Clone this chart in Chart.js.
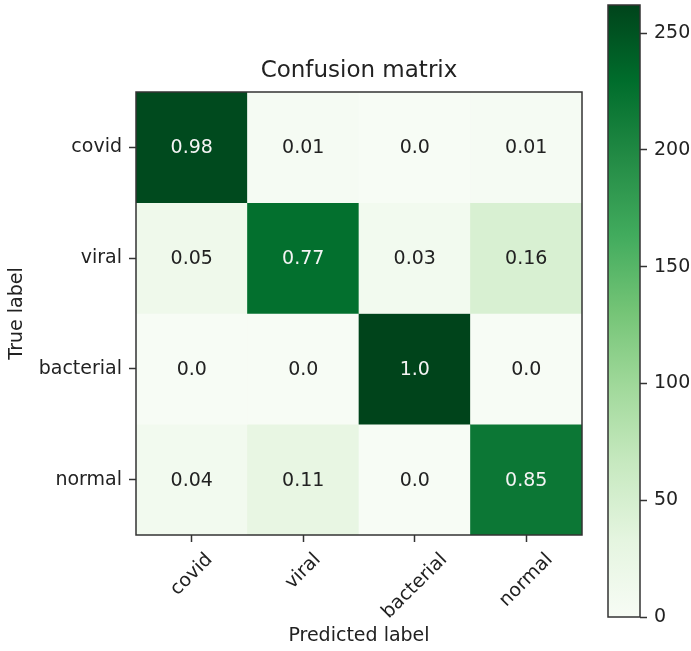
<!DOCTYPE html>
<html>
<head>
<meta charset="utf-8">
<title>Confusion matrix</title>
<script src="https://cdn.jsdelivr.net/npm/chart.js@4.4.1/dist/chart.umd.min.js"></script>
<style>
  html, body { margin: 0; padding: 0; background: #fff; }
  #wrap { position: relative; width: 691px; height: 651px; overflow: hidden; }
  #matrix { position: absolute; left: 0; top: 0; }
  #colorbar { position: absolute; left: 600px; top: 0; }
</style>
</head>
<body>
<div id="wrap">
  <canvas id="matrix" width="600" height="651"></canvas>
  <canvas id="colorbar" width="91" height="651"></canvas>
</div>
<script>
/* Confusion matrix (Greens), text = row-normalised, colour = counts */

var trueLabels = ["covid", "viral", "bacterial", "normal"];
var predictedLabels = ["covid", "viral", "bacterial", "normal"];

// counts per true row (estimated from cell shading)
var countsCovid = [257, 3, 0, 3];
var countsViral = [15, 226, 9, 47];
var countsBacterial = [0, 0, 262, 0];
var countsNormal = [10, 28, 0, 218];

// printed values per true row
var normCovid = [0.98, 0.01, 0.0, 0.01];
var normViral = [0.05, 0.77, 0.03, 0.16];
var normBacterial = [0.0, 0.0, 1.0, 0.0];
var normNormal = [0.04, 0.11, 0.0, 0.85];

var colorbarTicks = [0, 50, 100, 150, 200, 250];
var vmax = 262;
var titleText = "Confusion matrix";

var counts = [countsCovid, countsViral, countsBacterial, countsNormal];
var normalised = [normCovid, normViral, normBacterial, normNormal];

var greens = ["#f7fcf5", "#e5f5e0", "#c7e9c0", "#a1d99b", "#74c476",
              "#41ab5d", "#238b45", "#006d2c", "#00441b"];

var FONT = "'DejaVu Sans', 'Liberation Sans', sans-serif";
var INK = "#222";
var SPINE = "#333";

Chart.defaults.font.family = FONT;
Chart.defaults.color = INK;

function hexRgb(h) {
  return [parseInt(h.substr(1, 2), 16), parseInt(h.substr(3, 2), 16), parseInt(h.substr(5, 2), 16)];
}

function greenAt(t) {
  t = Math.max(0, Math.min(1, t));
  var p = t * (greens.length - 1);
  var i = Math.min(Math.floor(p), greens.length - 2);
  var f = p - i;
  var a = hexRgb(greens[i]), b = hexRgb(greens[i + 1]);
  var c = a.map(function (v, k) { return Math.round(v + (b[k] - v) * f); });
  return "rgb(" + c.join(",") + ")";
}

function fmt(v) {
  return v % 1 === 0 ? v.toFixed(1) : String(v);
}

function noEdgePadding(s) {
  s.paddingTop = 0;
  s.paddingBottom = 0;
}

var frame = {
  id: "frame",
  afterDatasetsDraw: function (chart) {
    var a = chart.chartArea, ctx = chart.ctx;
    ctx.save();
    ctx.strokeStyle = SPINE;
    ctx.lineWidth = 1.5;
    ctx.strokeRect(a.left, a.top, a.right - a.left, a.bottom - a.top);
    ctx.restore();
  }
};

// title centred over the axes, like matplotlib
var axesTitle = {
  id: "axesTitle",
  afterDraw: function (chart) {
    var a = chart.chartArea, ctx = chart.ctx;
    ctx.save();
    ctx.font = "23px " + FONT;
    ctx.fillStyle = INK;
    ctx.textAlign = "center";
    ctx.textBaseline = "middle";
    ctx.fillText(titleText, (a.left + a.right) / 2, a.top - 21);
    ctx.restore();
  }
};

var cellText = {
  id: "cellText",
  afterDatasetsDraw: function (chart) {
    var ctx = chart.ctx;
    ctx.save();
    ctx.font = "19px " + FONT;
    ctx.textAlign = "center";
    ctx.textBaseline = "middle";
    chart.data.datasets.forEach(function (ds, i) {
      chart.getDatasetMeta(i).data.forEach(function (bar, j) {
        ctx.fillStyle = counts[i][j] > vmax / 2 ? "#f4f4f4" : INK;
        ctx.fillText(fmt(normalised[i][j]), bar.x, (bar.y + bar.base) / 2 + 1);
      });
    });
    ctx.restore();
  }
};

// x tick labels rotated 45 deg, centred under the tick (matplotlib style)
var xLabels = {
  id: "xLabels",
  afterDraw: function (chart) {
    var ctx = chart.ctx, xs = chart.scales.x;
    var top = chart.chartArea.bottom + 15;
    ctx.save();
    ctx.font = "19px " + FONT;
    ctx.fillStyle = INK;
    ctx.textAlign = "center";
    ctx.textBaseline = "middle";
    predictedLabels.forEach(function (lab, k) {
      var w = ctx.measureText(lab).width;
      var d = (w + 19) / 2 * Math.SQRT1_2;
      ctx.save();
      ctx.translate(xs.getPixelForTick(k), top + d);
      ctx.rotate(-Math.PI / 4);
      ctx.fillText(lab, 0, 0);
      ctx.restore();
    });
    ctx.restore();
  }
};

var tickGrid = {
  display: true,
  drawOnChartArea: false,
  drawTicks: true,
  tickLength: 7,
  tickWidth: 1.5,
  tickColor: SPINE,
  offset: false
};

new Chart(document.getElementById("matrix").getContext("2d"), {
  type: "bar",
  data: {
    labels: predictedLabels,
    datasets: trueLabels.map(function (name, i) {
      return {
        label: name,
        data: predictedLabels.map(function () { return [i - 0.5, i + 0.5]; }),
        backgroundColor: counts[i].map(function (c) { return greenAt(c / vmax); }),
        borderWidth: 0,
        barPercentage: 1,
        categoryPercentage: 1,
        grouped: false
      };
    })
  },
  options: {
    responsive: false,
    animation: false,
    layout: { padding: { left: 0, right: 18, top: 92, bottom: 0 } },
    plugins: {
      legend: { display: false },
      tooltip: { enabled: false },
      title: { display: false }
    },
    scales: {
      x: {
        type: "category",
        offset: true,
        grid: tickGrid,
        border: { display: false },
        ticks: { display: false },
        title: {
          display: true,
          text: "Predicted label",
          color: INK,
          font: { size: 19 },
          padding: { top: 0, bottom: 4 }
        },
        afterFit: function (s) { s.height = 116; }
      },
      y: {
        type: "linear",
        min: -0.5,
        max: 3.5,
        reverse: true,
        grid: tickGrid,
        border: { display: false },
        afterBuildTicks: function (s) {
          s.ticks = trueLabels.map(function (_, i) { return { value: i }; });
        },
        ticks: {
          padding: 7,
          color: INK,
          font: { size: 19 },
          callback: function (v) { return trueLabels[v]; }
        },
        title: {
          display: true,
          text: "True label",
          color: INK,
          font: { size: 19 },
          padding: { top: 6, bottom: 0 }
        },
        afterFit: function (s) { s.width = 136; noEdgePadding(s); }
      }
    }
  },
  plugins: [frame, cellText, xLabels, axesTitle]
});

new Chart(document.getElementById("colorbar").getContext("2d"), {
  type: "bar",
  data: {
    labels: [""],
    datasets: [{
      data: [[0, vmax]],
      backgroundColor: function (ctx) {
        var a = ctx.chart.chartArea;
        if (!a) return greens[4];
        var g = ctx.chart.ctx.createLinearGradient(0, a.bottom, 0, a.top);
        greens.forEach(function (c, k) { g.addColorStop(k / (greens.length - 1), c); });
        return g;
      },
      borderWidth: 0,
      barPercentage: 1,
      categoryPercentage: 1
    }]
  },
  options: {
    responsive: false,
    animation: false,
    layout: { padding: { left: 8, right: 0, top: 5, bottom: 34 } },
    plugins: { legend: { display: false }, tooltip: { enabled: false } },
    scales: {
      x: { display: false },
      y: {
        position: "right",
        min: 0,
        max: vmax,
        grid: tickGrid,
        border: { display: false },
        afterBuildTicks: function (s) {
          s.ticks = colorbarTicks.map(function (v) { return { value: v }; });
        },
        ticks: { padding: 7, color: INK, font: { size: 19 } },
        afterFit: function (s) { s.width = 51; noEdgePadding(s); }
      }
    }
  },
  plugins: [frame]
});
</script>
</body>
</html>
